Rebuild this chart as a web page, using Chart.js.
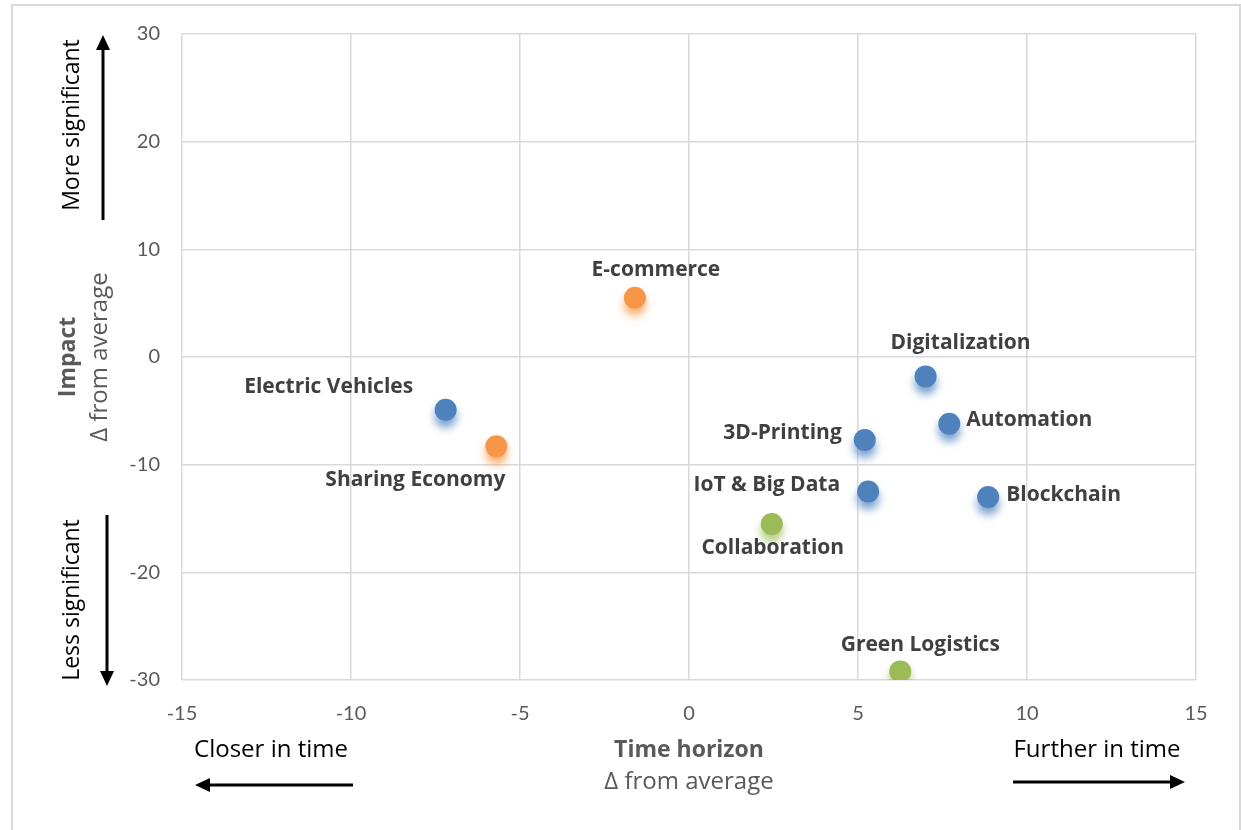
<!DOCTYPE html>
<html>
<head>
<meta charset="utf-8">
<script src="https://cdn.jsdelivr.net/npm/chart.js@4/dist/chart.umd.min.js"></script>
<style>
  html, body { margin: 0; padding: 0; background: #fff; }
  #wrap { width: 1241px; height: 830px; position: relative; }
</style>
</head>
<body>
<div id="wrap"><canvas id="c" width="1241" height="830"></canvas></div>
<script>
// --- DATA ---
const names = ["Electric Vehicles", "Sharing Economy", "E-commerce", "Digitalization", "Automation",
  "3D-Printing", "IoT & Big Data", "Blockchain", "Collaboration", "Green Logistics"];
const timeHorizon = [-7.2, -5.7, -1.6, 7.0, 7.7, 5.2, 5.3, 8.85, 2.45, 6.25];
const impact = [-4.9, -8.3, 5.5, -1.8, -6.2, -7.7, -12.5, -13.0, -15.5, -29.2];
const groups = ["tech", "social", "social", "tech", "tech", "tech", "tech", "tech", "green", "green"];
const xTicks = [-15, -10, -5, 0, 5, 10, 15];
const yTicks = [-30, -20, -10, 0, 10, 20, 30];

// --- STYLES ---
const groupColor = { tech: "#4F81BD", social: "#F79646", green: "#9BBB59" };
const groupShadow = { tech: "rgba(79,129,189,0.75)", social: "rgba(247,150,70,0.75)", green: "rgba(155,187,89,0.75)" };
// label offset from its point [dx, dy, align]
const labelOffset = [
  [-117, -23, "center"], [-81, 34, "center"], [21, -28, "center"], [35, -33, "center"], [17, -4, "left"],
  [-23, -7, "right"], [-28, -7, "right"], [18, -2, "left"], [1, 24, "center"], [20, -26, "center"]
];
const FONT = "'Open Sans', Lato, sans-serif";
const TICKFONT = "Lato, 'Open Sans', sans-serif";

const datasets = Object.keys(groupColor).map(g => {
  const pts = [];
  names.forEach((n, i) => {
    if (groups[i] === g) pts.push({ x: timeHorizon[i], y: impact[i], idx: i });
  });
  return {
    label: g, data: pts, group: g,
    backgroundColor: groupColor[g], borderColor: groupColor[g],
    pointRadius: 11, pointHoverRadius: 11, borderWidth: 0
  };
});

// --- SHADOW + LABELS + ANNOTATIONS ---
const decor = {
  id: "decor",
  beforeDatasetDraw(chart, args) {
    const ctx = chart.ctx;
    ctx.save();
    ctx.shadowColor = groupShadow[args.meta._dataset.group];
    ctx.shadowOffsetY = 7;
    ctx.shadowBlur = 8;
  },
  afterDatasetDraw(chart) {
    chart.ctx.restore();
  },
  afterDraw(chart) {
    const ctx = chart.ctx;
    // data labels
    ctx.save();
    ctx.font = "bold 21px " + FONT;
    ctx.fillStyle = "#404040";
    ctx.textBaseline = "middle";
    chart.data.datasets.forEach((ds, di) => {
      const meta = chart.getDatasetMeta(di);
      ds.data.forEach((p, j) => {
        const el = meta.data[j];
        const off = labelOffset[p.idx];
        ctx.textAlign = off[2];
        ctx.fillText(names[p.idx], el.x + off[0], el.y + off[1]);
      });
    });
    ctx.restore();

    ctx.save();
    // outer frame
    ctx.strokeStyle = "#d9d9d9";
    ctx.lineWidth = 2;
    ctx.beginPath();
    ctx.moveTo(12, 840); ctx.lineTo(12, 5); ctx.lineTo(1240, 5); ctx.lineTo(1240, 840);
    ctx.stroke();

    // axis titles
    ctx.textAlign = "center";
    ctx.textBaseline = "middle";
    ctx.fillStyle = "#595959";
    ctx.font = "bold 23px " + FONT;
    ctx.fillText("Time horizon", 689, 750);
    ctx.font = "24px " + FONT;
    ctx.fillText("\u0394 from average", 689, 782);

    ctx.save();
    ctx.translate(68, 357);
    ctx.rotate(-Math.PI / 2);
    ctx.font = "bold 23px " + FONT;
    ctx.fillText("Impact", 0, 0);
    ctx.restore();
    ctx.save();
    ctx.translate(100, 357);
    ctx.rotate(-Math.PI / 2);
    ctx.font = "24px " + FONT;
    ctx.fillText("\u0394 from average", 0, 0);
    ctx.restore();

    // direction notes
    ctx.fillStyle = "#000";
    ctx.font = "24px " + FONT;
    ctx.fillText("Closer in time", 271, 750);
    ctx.fillText("Further in time", 1097, 750);
    ctx.font = "23px " + FONT;
    ctx.save();
    ctx.translate(72, 125);
    ctx.rotate(-Math.PI / 2);
    ctx.fillText("More significant", 0, 0);
    ctx.restore();
    ctx.save();
    ctx.translate(72, 600);
    ctx.rotate(-Math.PI / 2);
    ctx.fillText("Less significant", 0, 0);
    ctx.restore();

    function arrow(x1, y1, x2, y2) {
      const a = Math.atan2(y2 - y1, x2 - x1);
      const hl = 15, hw = 7;
      const bx = x2 - hl * Math.cos(a), by = y2 - hl * Math.sin(a);
      ctx.strokeStyle = "#000";
      ctx.lineWidth = 3;
      ctx.beginPath();
      ctx.moveTo(x1, y1); ctx.lineTo(bx, by);
      ctx.stroke();
      ctx.fillStyle = "#000";
      ctx.beginPath();
      ctx.moveTo(x2, y2);
      ctx.lineTo(bx - hw * Math.sin(a), by + hw * Math.cos(a));
      ctx.lineTo(bx + hw * Math.sin(a), by - hw * Math.cos(a));
      ctx.closePath();
      ctx.fill();
    }
    arrow(353, 785, 195, 785);
    arrow(1013, 782, 1185, 782);
    arrow(103, 220, 103, 35);
    arrow(107, 515, 107, 686);
    ctx.restore();
  }
};

new Chart(document.getElementById("c"), {
  type: "scatter",
  data: { datasets: datasets },
  options: {
    responsive: false,
    animation: false,
    layout: { padding: { left: 122, right: 45, top: 34, bottom: 0 } },
    plugins: { legend: { display: false }, tooltip: { enabled: false } },
    scales: {
      x: {
        type: "linear", min: -15, max: 15,
        afterBuildTicks: s => { s.ticks = xTicks.map(v => ({ value: v })); },
        afterFit: s => { s.height = 150; },
        grid: { color: "#d9d9d9", lineWidth: 1.5, drawTicks: false },
        border: { display: false },
        ticks: { padding: 22, color: "#595959", font: { family: TICKFONT, size: 20 } }
      },
      y: {
        type: "linear", min: -30, max: 30,
        afterBuildTicks: s => { s.ticks = yTicks.map(v => ({ value: v })); },
        afterFit: s => { s.width = 60; },
        grid: { color: "#d9d9d9", lineWidth: 1.5, drawTicks: false },
        border: { display: false },
        ticks: { padding: 22, color: "#595959", font: { family: TICKFONT, size: 20 } }
      }
    }
  },
  plugins: [decor]
});
</script>
</body>
</html>
